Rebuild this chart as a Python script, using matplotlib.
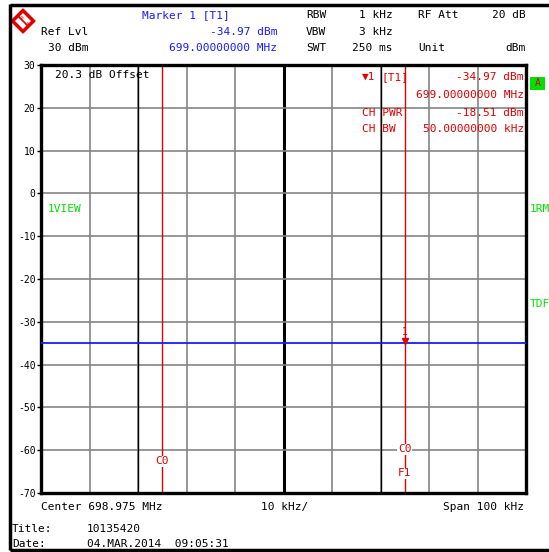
import matplotlib
matplotlib.use("Agg")
import matplotlib.pyplot as plt
from matplotlib.patches import Polygon, Rectangle

# --- measurement data -------------------------------------------------------
center_mhz = 698.975
span_khz = 100
ref_level = 30
y_ticks = [30, 20, 10, 0, -10, -20, -30, -40, -50, -60, -70]
trace_freq = [698.925, 699.025]
trace_level = [-34.97, -34.97]
marker_freq = 699.000
marker_level = -34.97
channel_edges = [698.950, 699.000]
ch_power = -18.51
ch_bw_khz = 50.0
display_lines = [698.945, 698.995]

W, H = 549, 552
fig = plt.figure(figsize=(W / 100, H / 100), dpi=100)
fig.patch.set_facecolor("white")

MONO = "DejaVu Sans Mono"
FS = 8
RED = "#e00000"
BLUE = "#1a1aff"
GREEN = "#00e000"

# grid area in pixels
L, R, T, B = 41, 526, 65, 493
ax = fig.add_axes([L / W, 1 - B / H, (R - L) / W, (B - T) / H])
fmin = center_mhz - span_khz / 2000
fmax = center_mhz + span_khz / 2000
ax.set_xlim(fmin, fmax)
ax.set_ylim(y_ticks[-1], y_ticks[0])

# graticule
for i in range(1, 10):
    f = fmin + i * span_khz / 10000
    if i == 5:
        ax.axvline(f, color="black", lw=2.2, zorder=1)
    else:
        ax.axvline(f, color="#858585", lw=1.2, zorder=1)
for f in display_lines:
    ax.axvline(f, color="black", lw=1.0, zorder=1.1)
for v in y_ticks[1:-1]:
    ax.axhline(v, color="#858585", lw=1.2, zorder=1)

for s in ax.spines.values():
    s.set_linewidth(2.4)
    s.set_color("black")
ax.set_xticks([])
ax.set_yticks(y_ticks)
ax.set_yticklabels([str(v) for v in y_ticks], fontfamily=MONO, fontsize=7)
ax.tick_params(axis="y", length=3, width=1, pad=1, direction="out")

# channel limit lines
for f in channel_edges:
    ax.axvline(f, color=RED, lw=1.0, zorder=2)
lbl_box = dict(facecolor="white", edgecolor="none", pad=0.5)
ax.text(channel_edges[0], -62.6, "C0", color=RED, fontfamily=MONO, fontsize=FS,
        ha="center", va="center", bbox=lbl_box, zorder=3)
ax.text(channel_edges[1], -59.8, "C0", color=RED, fontfamily=MONO, fontsize=FS,
        ha="center", va="center", bbox=lbl_box, zorder=3)
ax.text(channel_edges[1], -65.4, "F1", color=RED, fontfamily=MONO, fontsize=FS,
        ha="center", va="center", bbox=lbl_box, zorder=3)

# trace
ax.plot(trace_freq, trace_level, color=BLUE, lw=1.3, zorder=4)

# marker
ax.plot([marker_freq], [marker_level + 0.6], marker="v", color=RED,
        markersize=5, zorder=5)
ax.text(marker_freq, marker_level + 2.6, "1", color=RED, fontfamily=MONO,
        fontsize=7, ha="center", va="center", zorder=5)

# overlay in pixel coordinates for screen annotations
ov = fig.add_axes([0, 0, 1, 1], facecolor="none")
ov.set_xlim(0, W)
ov.set_ylim(H, 0)
ov.axis("off")


def t(x, y, s, color="black", ha="left", size=FS):
    ov.text(x, y, s, color=color, ha=ha, va="center", fontfamily=MONO,
            fontsize=size)


# screen frame
ov.plot([10, W], [4.5, 4.5], color="black", lw=2.5, solid_capstyle="butt")
ov.plot([10, 10], [4, 550], color="black", lw=2.5, solid_capstyle="butt")
ov.plot([10, W], [549.5, 549.5], color="black", lw=2.5, solid_capstyle="butt")

# logo
cx, cy, r = 23, 21, 12
ov.add_patch(Polygon([(cx, cy - r), (cx + r, cy), (cx, cy + r), (cx - r, cy)],
                     closed=True, facecolor=RED, edgecolor=RED))
r2 = 8
ov.add_patch(Polygon([(cx, cy - r2), (cx + r2, cy), (cx, cy + r2), (cx - r2, cy)],
                     closed=True, facecolor="white", edgecolor="none"))
ov.plot([cx - 4, cx + 4], [cy - 4, cy + 4], color=RED, lw=1.2)
ov.text(cx - 3, cy - 3, "R", color=RED, fontsize=4.5, ha="center", va="center",
        rotation=-45, fontfamily="DejaVu Sans")
ov.text(cx + 3, cy + 3, "S", color=RED, fontsize=4.5, ha="center", va="center",
        rotation=-45, fontfamily="DejaVu Sans")

# header
t(142, 15, "Marker 1 [T1]", BLUE)
t(41, 32, "Ref Lvl")
t(277, 32, f"{marker_level:.2f} dBm", BLUE, ha="right")
t(48, 48, f"{ref_level} dBm")
t(277, 48, f"{marker_freq:.8f} MHz", BLUE, ha="right")
t(306, 15, "RBW")
t(393, 15, "1 kHz", ha="right")
t(418, 15, "RF Att")
t(526, 15, "20 dB", ha="right")
t(306, 32, "VBW")
t(393, 32, "3 kHz", ha="right")
t(306, 48, "SWT")
t(393, 48, "250 ms", ha="right")
t(418, 48, "Unit")
t(526, 48, "dBm", ha="right")

# marker / channel power readout inside the grid
t(362, 77, "\u25BC1", RED)
t(382, 77, "[T1]", RED)
t(524, 77, f"{marker_level:.2f} dBm", RED, ha="right")
t(524, 95, f"{marker_freq:.8f} MHz", RED, ha="right")
t(362, 113, "CH PWR", RED)
t(524, 113, f"{ch_power:.2f} dBm", RED, ha="right")
t(362, 129, "CH BW", RED)
t(524, 129, f"{ch_bw_khz:.8f} kHz", RED, ha="right")
t(55, 75, "20.3 dB Offset")

# side labels
ov.add_patch(Rectangle((530, 77), 15, 13, facecolor=GREEN, edgecolor="none"))
t(537.5, 83.5, "A", RED, ha="center", size=7)
t(48, 209, "1VIEW", GREEN)
t(530, 209, "1RM", GREEN)
t(530, 304, "TDF", GREEN)

# footer
t(41, 507, f"Center {center_mhz:.3f} MHz")
t(285, 507, f"{span_khz // 10} kHz/", ha="center")
t(524, 507, f"Span {span_khz} kHz", ha="right")
t(12, 529, "Title:")
t(87, 529, "10135420")
t(12, 544, "Date:")
t(87, 544, "04.MAR.2014  09:05:31")

fig.savefig("out.png", dpi=100)
